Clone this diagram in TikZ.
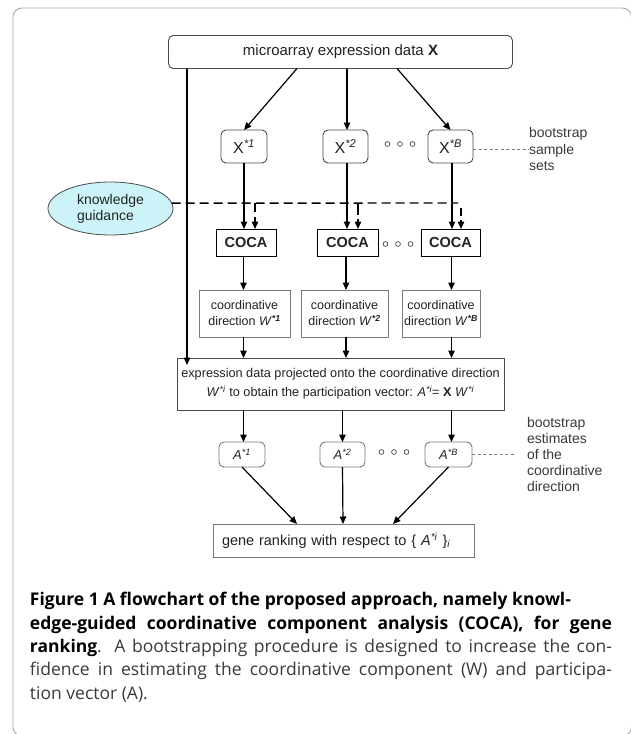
\documentclass[tikz,border=0pt]{standalone}
\usepackage{fontspec}
\setmainfont{Liberation Sans}
\newfontfamily\capfont{Open Sans}
\usetikzlibrary{arrows.meta,shapes.geometric,calc}
\definecolor{kgfill}{HTML}{CCF4F8}
\definecolor{framegray}{HTML}{A8A8A8}
\definecolor{boxgray}{HTML}{7A7A7A}
\definecolor{boxdark}{HTML}{4A4A4A}
\definecolor{captxt}{HTML}{3A3A3A}
\definecolor{dgtxt}{HTML}{222222}
\begin{document}
\begin{tikzpicture}[x=1pt,y=-1pt,
  every node/.style={inner sep=0pt, outer sep=0pt, align=center, text=dgtxt},
  arr/.style={-{Triangle[length=7.5pt,width=6.5pt]}, line width=1.2pt, black},
  kgline/.style={line width=1.4pt, black, dash pattern=on 9pt off 5pt},
  dotline/.style={line width=0.7pt, boxgray, dash pattern=on 3pt off 2.5pt},
  rbox/.style={draw=boxdark, line width=0.9pt, rounded corners=5pt},
  sbox/.style={draw=boxgray, line width=0.9pt},
  xbox/.style={rbox, minimum width=45pt, minimum height=33pt, font=\fontsize{16}{18}\selectfont},
  abox/.style={rbox, draw=boxgray, minimum width=46pt, minimum height=25pt, font=\fontsize{13}{15}\selectfont},
  cocabox/.style={draw=black, line width=1pt, minimum height=27pt, font=\fontsize{14.5}{16}\selectfont\bfseries},
  cdbox/.style={sbox, minimum height=47pt, font=\fontsize{12.5}{16}\selectfont},
  sidelabel/.style={align=left, anchor=west, text=captxt, font=\fontsize{14}{16.5}\selectfont},
  capline/.style={anchor=west, font=\capfont\fontsize{17.5}{23}\selectfont},
  ring/.style={draw=boxdark, line width=0.7pt}
]
\useasboundingbox (0,0) rectangle (631,734);
\fill[white] (0,0) rectangle (631,734);
% outer frame
\draw[framegray, line width=0.9pt, rounded corners=9pt] (13,8) rectangle (631.5,736);

% columns
\coordinate (c1) at (243.5,0);
\coordinate (c2) at (346,0);
\coordinate (c3) at (451.5,0);

% nodes
\node[rbox, minimum width=344pt, minimum height=33pt, font=\fontsize{15}{17}\selectfont] (top) at (340.5,52) {microarray expression data \textbf{X}};
\node[xbox, minimum width=46pt] (x1) at (244,146.5) {X\textsuperscript{\textit{*1}}};
\node[xbox] (x2) at (345.5,146.5) {X\textsuperscript{\textit{*2}}};
\node[xbox] (xB) at (450.5,146.5) {X\textsuperscript{\textit{*B}}};
\node[sidelabel] (bss) at (529,149) {bootstrap\\sample\\sets};

\node[ellipse, draw=boxdark, line width=0.8pt, fill=kgfill, minimum width=125pt, minimum height=53pt, font=\fontsize{14}{16}\selectfont, align=left] (kg) at (110.5,208.5) {knowledge\\guidance};

\node[cocabox, minimum width=60pt] (coca1) at (246,242.5) {COCA};
\node[cocabox, minimum width=61pt] (coca2) at (347.5,242.5) {COCA};
\node[cocabox, minimum width=59pt] (coca3) at (450.5,242.5) {COCA};

\node[cdbox, minimum width=91pt] (cd1) at (244.5,313.5) {coordinative\\direction \textit{W}\textsuperscript{\textbf{\textit{*1}}}};
\node[cdbox, minimum width=87pt] (cd2) at (344.5,313.5) {coordinative\\direction \textit{W}\textsuperscript{\textbf{\textit{*2}}}};
\node[cdbox, minimum width=78pt] (cd3) at (441,313.5) {coordinative\\direction \textit{W}\textsuperscript{\textbf{\textit{*B}}}};

\node[draw=boxdark, line width=0.9pt, minimum width=327pt, minimum height=52pt, font=\fontsize{12.7}{19}\selectfont] (proj) at (340.5,384) {expression data projected onto the coordinative direction\\ \textit{W}\textsuperscript{\textit{*i}} to obtain the participation vector: \textit{A}\textsuperscript{\textit{*i}}= \textbf{X} \textit{W}\textsuperscript{\textit{*i}}};

\node[abox] (a1) at (242,454.5) {\textit{A}\textsuperscript{\textit{*1}}};
\node[abox, minimum width=45pt] (a2) at (342.5,454.5) {\textit{A}\textsuperscript{\textit{*2}}};
\node[abox, minimum width=47pt] (aB) at (448.5,454.5) {\textit{A}\textsuperscript{\textit{*B}}};
\node[sidelabel, font=\fontsize{14}{16}\selectfont] (bse) at (527,454) {bootstrap\\estimates\\of the\\coordinative\\direction};

\node[sbox, minimum width=261pt, minimum height=33pt, text width=243pt, align=left, font=\fontsize{14.5}{16}\selectfont] (gene) at (343.5,540.5) {gene ranking with respect to \{ \textit{A}\textsuperscript{\textit{*i}} \}\textsubscript{\textit{i}}};

% dots
\foreach \dx in {-12.5,0,12.5} {
  \draw[ring] ($(400,144)+(\dx,0)$) circle (2.4pt);
  \draw[ring] ($(398,244)+(\dx,0)$) circle (2.4pt);
  \draw[ring] ($(394,452)+(\dx,0)$) circle (2.4pt);
}

% arrows top -> X
\draw[arr] (297,0 |- top.south) -- (x1.north);
\draw[arr] (347,0 |- top.south) -- (347,0 |- x2.north);
\draw[arr] (397,0 |- top.south) -- (xB.north);
% left long arrow
\draw[arr] (187,0 |- top.south) -- ($(proj.north west)+(10,7)$);

% X -> COCA
\draw[arr] (244,0 |- x1.south) -- (244,0 |- coca1.north);
\draw[arr] (347,0 |- x2.south) -- (347,0 |- coca2.north);
\draw[arr] (452,0 |- xB.south) -- (452,0 |- coca3.north);

% knowledge guidance dashed
\coordinate (dend) at (458,203);
\coordinate (d1) at (255,203);
\coordinate (d2) at (358,203);
\coordinate (d3) at (461,208);
\draw[kgline] (kg.5) -- (dend);
\draw[kgline, -{Triangle[length=7.5pt,width=6.5pt]}] (d1) -- (d1 |- coca1.north);
\draw[kgline, dash pattern=on 12pt off 4pt, -{Triangle[length=7.5pt,width=6.5pt]}] (d2) -- (d2 |- coca2.north);
\draw[kgline, dash pattern=on 8pt off 4pt, -{Triangle[length=7.5pt,width=6.5pt]}] (d3) -- (d3 |- coca3.north);

% COCA -> cd
\draw[arr] (c1 |- coca1.south) -- (c1 |- cd1.north);
\draw[arr] (c2 |- coca2.south) -- (c2 |- cd2.north);
\draw[arr] (c3 |- coca3.south) -- (c3 |- cd3.north);
% cd -> proj
\draw[arr] (c1 |- cd1.south) -- (c1 |- proj.north);
\draw[arr] (c2 |- cd2.south) -- (c2 |- proj.north);
\draw[arr] (c3 |- cd3.south) -- (c3 |- proj.north);
% proj -> A
\draw[arr] (c1 |- proj.south) -- (c1 |- a1.north);
\draw[arr] (342.5,0 |- proj.south) -- (a2.north);
\draw[arr] (c3 |- proj.south) -- (c3 |- aB.north);
% A -> gene
\draw[arr] (a1.south) -- (297,0 |- gene.north);
\draw[arr] (a2.south) -- (343,0 |- gene.north);
\draw[arr] (aB.south) -- (393,0 |- gene.north);

% side dotted
\draw[dotline] (xB.east |- bss.west) -- (bss.west);
\draw[dotline] (aB.east) -- (515,0 |- aB.east);

% caption
\node[capline, text=black] (cap1) at (30,601) {\bfseries Figure 1 A flowchart of the proposed approach, namely knowl-};
\node[capline, text=black] (cap2) at (30,624.5) {\makebox[582pt][s]{\bfseries edge-guided coordinative component analysis (COCA), for gene}};
\node[capline, text=captxt] (cap3) at (30,648) {\makebox[582pt][s]{\textbf{\color{black}ranking}. A bootstrapping procedure is designed to increase the con-}};
\node[capline, text=captxt] (cap4) at (30,671) {\makebox[582pt][s]{fidence in estimating the coordinative component (W) and participa-}};
\node[capline, text=captxt] (cap5) at (30,694.5) {tion vector (A).};
\end{tikzpicture}
\end{document}
